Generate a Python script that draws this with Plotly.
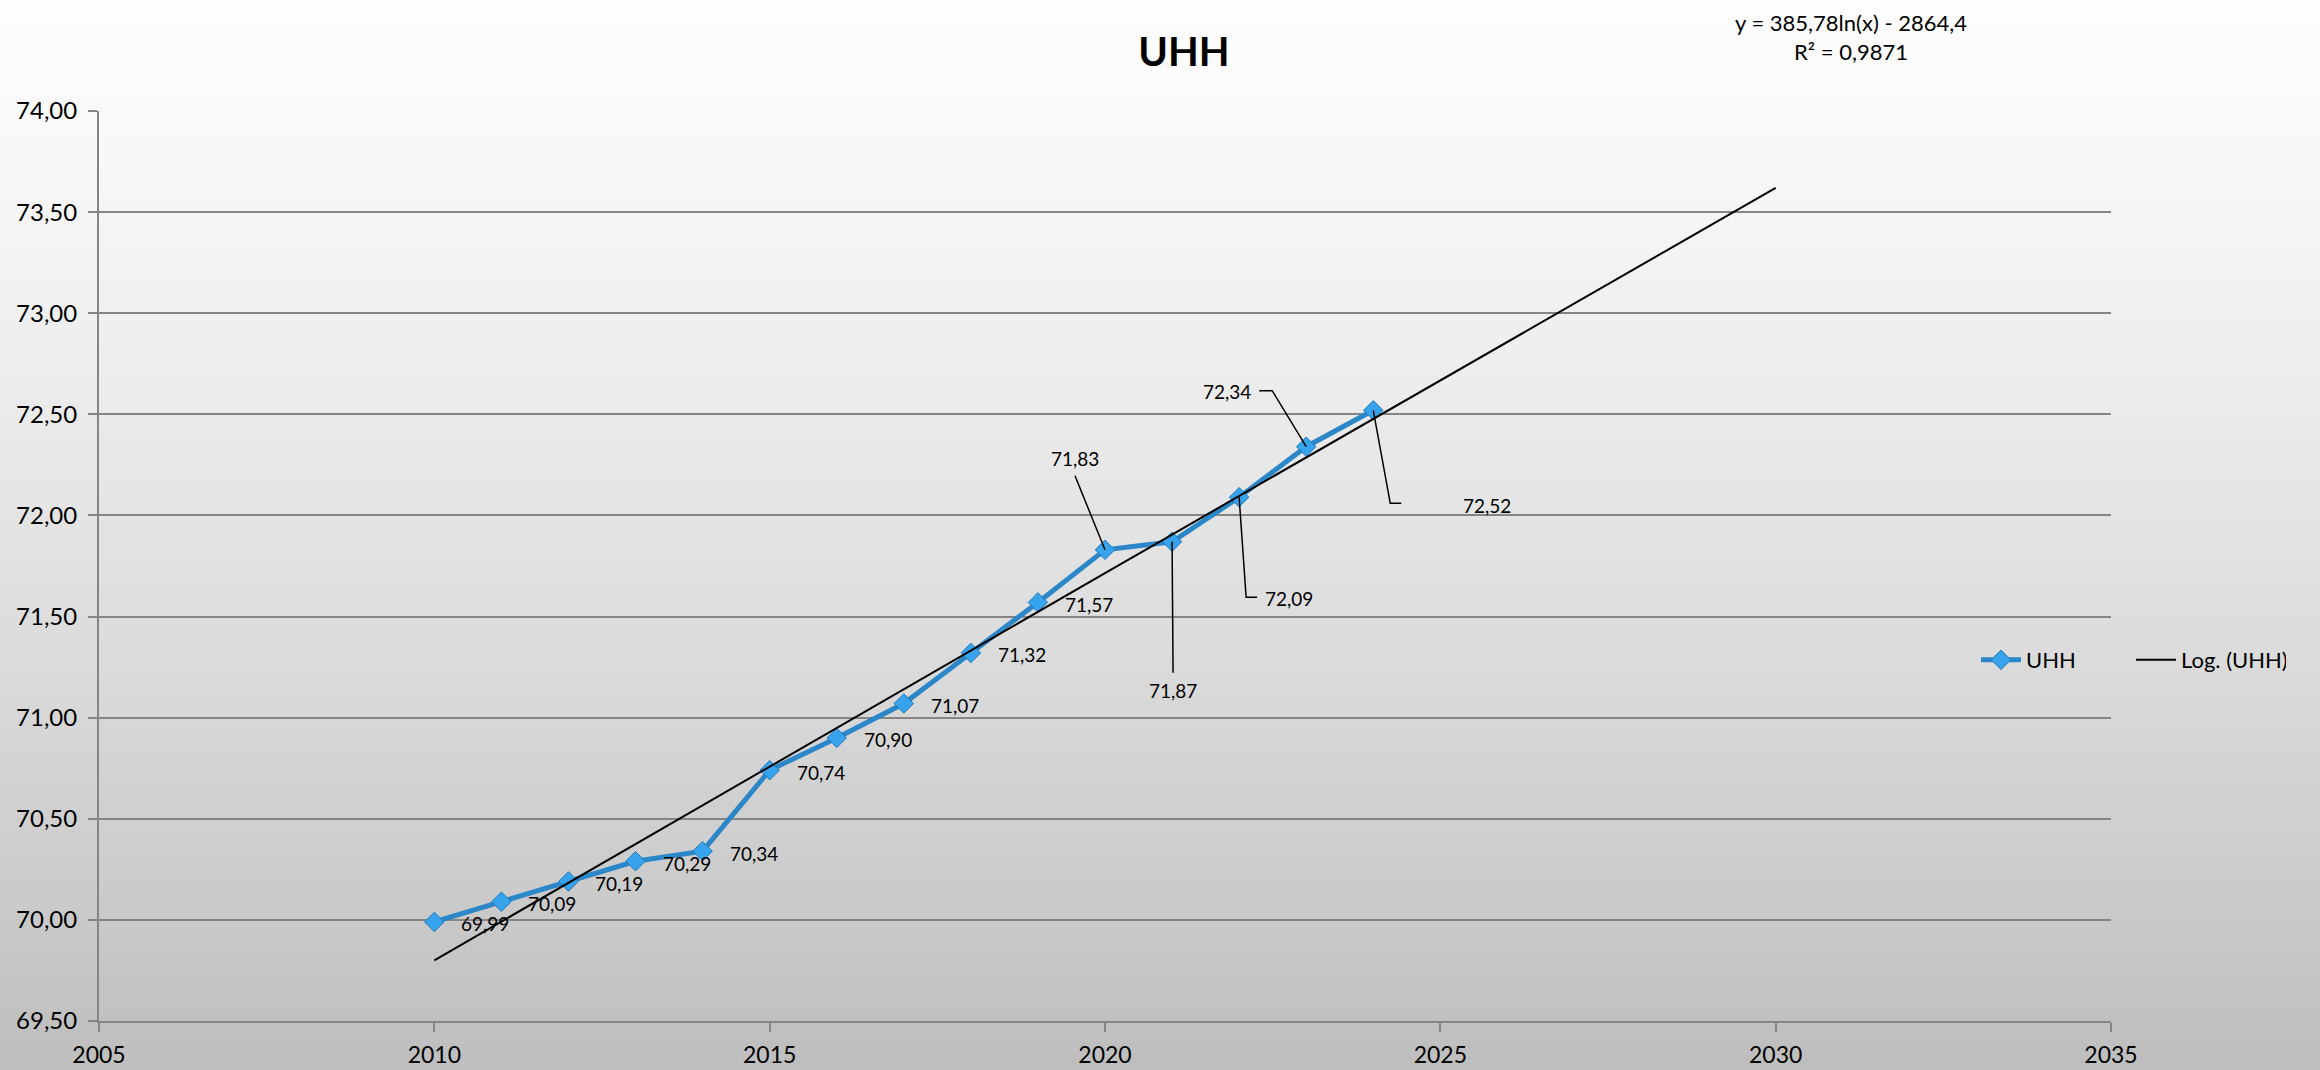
import math
import plotly.graph_objects as go

# ---------------- data ----------------
years = [2010, 2011, 2012, 2013, 2014, 2015, 2016, 2017, 2018, 2019, 2020, 2021, 2022, 2023, 2024]
uhh_values = [69.99, 70.09, 70.19, 70.29, 70.34, 70.74, 70.90, 71.07, 71.32, 71.57, 71.83, 71.87, 72.09, 72.34, 72.52]

# logarithmic trendline as printed on the chart: y = 385,78 ln(x) - 2864,4
trend_a = 385.78
trend_b = -2864.4
trend_years = list(range(2010, 2031))
trend_text = "y = 385,78ln(x) - 2864,4<br>R² = 0,9871"

title_text = "UHH"
series_name = "UHH"
trend_name = "Log. (UHH)"

# ---------------- layout geometry ----------------
W, H = 2320, 1070
L, R, T, B = 99, 2111, 111, 1021   # plot area in pixels
PW, PH = R - L, B - T
FONT = "Lato, 'Open Sans', Arial, sans-serif"

trend_values = [trend_a * math.log(x) + trend_b for x in trend_years]

fig = go.Figure()
fig.add_trace(go.Scatter(
    x=years, y=uhh_values, name=series_name, mode="lines+markers",
    line=dict(color="#2C87C8", width=5),
    marker=dict(symbol="diamond", size=15, color="#36A3EC",
                line=dict(color="#2479B8", width=1)),
))
fig.add_trace(go.Scatter(
    x=trend_years, y=trend_values, name=trend_name, mode="lines",
    line=dict(color="#000000", width=2),
))

# ---------------- background gradient ----------------
shapes = []
nb = 80
for i in range(nb):
    py0 = H * i / nb
    py1 = H * (i + 1) / nb + 1
    t = (i + 0.5) / nb
    v = int(round(253 - 64 * (t ** 1.3)))
    shapes.append(dict(
        type="rect", xref="paper", yref="paper", layer="below",
        x0=(0 - L) / PW, x1=(W - L) / PW,
        y0=(B - py1) / PH, y1=(B - py0) / PH,
        fillcolor=f"rgb({v},{v},{v})", line=dict(width=0),
    ))

# ---------------- data labels with leader lines ----------------
# per-point label offsets in pixels (dx right, dy down) and leader paths
label_offsets = {
    2020: (-30, -91), 2021: (1, 149), 2022: (50, 101), 2023: (-79, -55), 2024: (114, 95),
}
leaders = {
    2020: [(-30, -74), (0, 0)],
    2021: [(1, 131), (0, 0)],
    2022: [(0, 0), (7, 100), (18, 100)],
    2023: [(-47, -56), (-34, -56), (0, 0)],
    2024: [(0, 0), (17, 93), (28, 93)],
}
annotations = []
for yr, val in zip(years, uhh_values):
    dx, dy = label_offsets.get(yr, (51, 2))
    annotations.append(dict(
        x=yr, y=val, xref="x", yref="y", showarrow=False,
        text=f"{val:.2f}".replace(".", ","),
        xshift=dx, yshift=-dy,
        font=dict(family=FONT, size=19, color="#000000"),
    ))
    if yr in leaders:
        pts = leaders[yr]
        path = "M " + " L ".join(f"{px},{-py}" for px, py in pts)
        shapes.append(dict(
            type="path", xref="x", yref="y", xsizemode="pixel", ysizemode="pixel",
            xanchor=yr, yanchor=val, path=path, layer="above",
            line=dict(color="#000000", width=1.5),
        ))

annotations.append(dict(
    xref="paper", yref="paper", x=(1851 - L) / PW, y=(B - 37) / PH,
    showarrow=False, text=trend_text, align="center",
    xanchor="center", yanchor="middle",
    font=dict(family=FONT, size=22, color="#000000"),
))

axis_color = "#858585"
fig.update_layout(
    width=W, height=H,
    margin=dict(l=L, r=W - R, t=T, b=H - B, pad=0, autoexpand=False),
    paper_bgcolor="#ffffff", plot_bgcolor="rgba(0,0,0,0)",
    separators=",.",
    font=dict(family=FONT, size=24, color="#000000"),
    title=dict(text=f"<b>{title_text}</b>", x=1184 / W, y=1 - 52 / H,
               xanchor="center", yanchor="middle",
               font=dict(family=FONT, size=40, color="#000000")),
    xaxis=dict(range=[2005, 2035], dtick=5, tick0=2005, showgrid=False, zeroline=False,
               automargin=False,
               showline=True, linecolor=axis_color, linewidth=2,
               ticks="outside", ticklen=9, tickwidth=2, tickcolor=axis_color,
               ticklabelstandoff=3,
               tickfont=dict(family=FONT, size=23, color="#000000")),
    yaxis=dict(range=[69.5, 74], dtick=0.5, tick0=69.5, tickformat=".2f",
               automargin=False,
               showgrid=True, gridcolor=axis_color, gridwidth=2, zeroline=False,
               showline=True, linecolor=axis_color, linewidth=2,
               ticks="outside", ticklen=9, tickwidth=2, tickcolor=axis_color,
               ticklabelstandoff=6,
               tickfont=dict(family=FONT, size=24, color="#000000")),
    legend=dict(orientation="h", x=(1976 - L) / PW, xanchor="left",
                y=(B - 660) / PH, yanchor="middle",
                bgcolor="rgba(0,0,0,0)", font=dict(family=FONT, size=22, color="#000000"),
                entrywidth=100, entrywidthmode="pixels", itemwidth=40),
    showlegend=True,
    shapes=shapes,
    annotations=annotations,
)

# remove the browser's default 8px body margin so the figure fills the page exactly
fig.write_html("out.html", config={"displayModeBar": False},
               post_script="document.body.style.margin='0px';")
